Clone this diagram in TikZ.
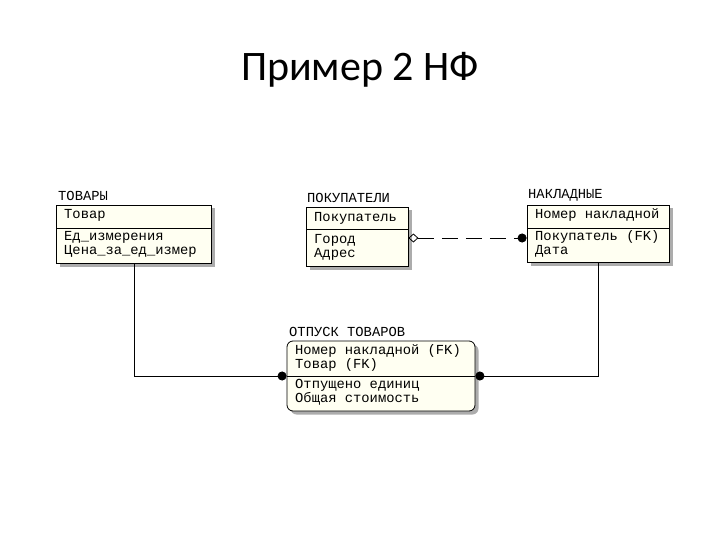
\documentclass[tikz,border=0pt]{standalone}
\usepackage{fontspec}
\setmainfont{Carlito}
\newfontfamily\ermfont{Liberation Mono}
\usetikzlibrary{
    arrows.meta,
    positioning,
    shadows
}
\definecolor{entityfill}{rgb}{1.0, 1.0, 0.95}
\tikzstyle{entity} = [
    draw=black,
    line width=0.8pt,
    fill=entityfill,
    inner sep=0pt,
    drop shadow={shadow xshift=3.5pt, shadow yshift=-3.5pt, fill=gray!65, opacity=1}
]
\tikzstyle{erm} = [
    font=\ermfont\fontsize{13.8}{14}\selectfont,
    anchor=west,
    align=left,
    inner sep=0pt
]
\tikzstyle{rel} = [
    line width=0.8pt,
    draw=black
]

\begin{document}
\begin{tikzpicture}[x=1pt, y=-1pt]
        \useasboundingbox (0,0) rectangle (720,540);
        \node[font=\fontsize{42}{46}\selectfont] (title) at (360,70) {Пример 2 НФ};

        % Entities
        \node[entity, minimum width=155pt, minimum height=58pt] (tovary) at (133.5,234) {};
        \node[entity, minimum width=102pt, minimum height=59pt] (pokup) at (357,236.5) {};
        \node[entity, minimum width=142pt, minimum height=57pt] (naklad) at (598,233.5) {};
        \node[entity, rounded corners=6pt, minimum width=188pt, minimum height=70pt] (otpusk) at (381,376) {};

        % Dividers
        \draw[rel] (56,228) -- (211,228);
        \draw[rel] (306,229) -- (408,229);
        \draw[rel] (527,228) -- (669,228);
        \draw[rel] (287,376) -- (475,376);

        % Entity names
        \node[erm, anchor=south west] (tovaryname) at (58,201) {ТОВАРЫ};
        \node[erm, anchor=south west] (pokupname) at (307,203) {ПОКУПАТЕЛИ};
        \node[erm, anchor=south west] (nakladname) at (528,201) {НАКЛАДНЫЕ};
        \node[erm, anchor=south west] (otpuskname) at (289,337) {ОТПУСК ТОВАРОВ};

        % Keys and attributes
        \node[erm] (tovarykey) at (64,215) {Товар};
        \node[erm] (tovaryattr) at (64,244) {Ед\_измерения\\Цена\_за\_ед\_измер};
        \node[erm] (pokupkey) at (314,218) {Покупатель};
        \node[erm] (pokupattr) at (314,247) {Город\\Адрес};
        \node[erm] (nakladkey) at (535,215) {Номер накладной};
        \node[erm] (nakladattr) at (535,243.5) {Покупатель (FK)\\Дата};
        \node[erm] (otpuskkey) at (295,358) {Номер накладной (FK)\\Товар (FK)};
        \node[erm] (otpuskattr) at (295,392) {Отпущено единиц\\Общая стоимость};

        % Relationships
        \draw[rel, dash pattern=on 16pt off 8pt,
            {Diamond[open, length=10pt, width=9pt]}-{Circle[length=9pt]}]
            (pokup.east |- 0,238) -- (naklad.west |- 0,238);
        \draw[rel, -{Circle[length=9pt]}]
            (tovary.south -| 134,0) |- (otpusk.west);
        \draw[rel, -{Circle[length=9pt]}]
            (naklad.south) |- (otpusk.east);
    \end{tikzpicture}
\end{document}
